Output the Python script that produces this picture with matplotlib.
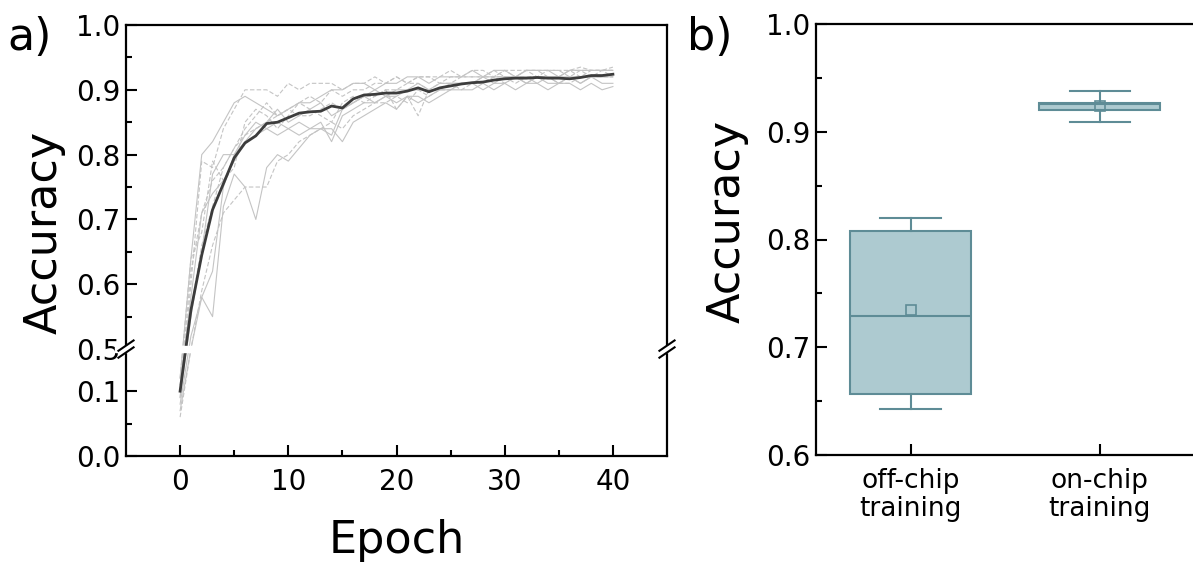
import numpy as np
import matplotlib
matplotlib.use("Agg")
import matplotlib.pyplot as plt
from matplotlib.patches import Rectangle

# ---- data ----
epochs = list(range(41))
mean_acc = [0.10, 0.56, 0.645, 0.715, 0.755, 0.795, 0.818, 0.829, 0.848, 0.850,
            0.857, 0.864, 0.866, 0.867, 0.875, 0.872, 0.886, 0.892, 0.893, 0.895,
            0.895, 0.898, 0.903, 0.897, 0.903, 0.906, 0.909, 0.911, 0.912, 0.915,
            0.917, 0.918, 0.918, 0.919, 0.918, 0.918, 0.917, 0.919, 0.922, 0.922, 0.924]

run1 = [0.12, 0.64, 0.80, 0.82, 0.85, 0.88, 0.89, 0.88, 0.87, 0.86, 0.87, 0.88, 0.88, 0.89,
        0.90, 0.90, 0.91, 0.91, 0.90, 0.91, 0.91, 0.92, 0.92, 0.91, 0.92, 0.92, 0.92, 0.93,
        0.92, 0.93, 0.93, 0.92, 0.93, 0.93, 0.93, 0.92, 0.93, 0.93, 0.93, 0.93, 0.93]
run2 = [0.09, 0.60, 0.79, 0.78, 0.84, 0.87, 0.90, 0.90, 0.90, 0.89, 0.91, 0.90, 0.91, 0.91,
        0.91, 0.90, 0.91, 0.91, 0.92, 0.91, 0.92, 0.91, 0.92, 0.92, 0.92, 0.93, 0.92, 0.93,
        0.93, 0.92, 0.93, 0.93, 0.93, 0.93, 0.93, 0.93, 0.93, 0.935, 0.93, 0.93, 0.935]
run3 = [0.08, 0.52, 0.58, 0.55, 0.72, 0.77, 0.75, 0.70, 0.78, 0.80, 0.79, 0.81, 0.83, 0.84,
        0.84, 0.82, 0.85, 0.86, 0.87, 0.88, 0.87, 0.89, 0.88, 0.89, 0.90, 0.90, 0.91, 0.91,
        0.90, 0.91, 0.91, 0.92, 0.91, 0.92, 0.92, 0.91, 0.92, 0.92, 0.92, 0.92, 0.925]
run4 = [0.06, 0.50, 0.59, 0.66, 0.71, 0.73, 0.75, 0.75, 0.75, 0.79, 0.80, 0.82, 0.83, 0.84,
        0.85, 0.84, 0.86, 0.87, 0.88, 0.88, 0.89, 0.88, 0.90, 0.89, 0.90, 0.90, 0.91, 0.91,
        0.91, 0.92, 0.91, 0.92, 0.92, 0.92, 0.92, 0.92, 0.93, 0.92, 0.93, 0.93, 0.93]
run5 = [0.11, 0.58, 0.71, 0.74, 0.76, 0.79, 0.82, 0.84, 0.85, 0.87, 0.85, 0.86, 0.87, 0.88,
        0.86, 0.87, 0.88, 0.89, 0.90, 0.89, 0.90, 0.90, 0.91, 0.90, 0.90, 0.91, 0.91, 0.91,
        0.92, 0.91, 0.92, 0.92, 0.91, 0.92, 0.91, 0.91, 0.92, 0.91, 0.92, 0.91, 0.91]
run6 = [0.10, 0.62, 0.71, 0.76, 0.78, 0.81, 0.84, 0.86, 0.88, 0.86, 0.87, 0.88, 0.87, 0.86,
        0.85, 0.88, 0.89, 0.88, 0.89, 0.90, 0.87, 0.89, 0.86, 0.90, 0.90, 0.91, 0.90, 0.91,
        0.91, 0.92, 0.92, 0.91, 0.92, 0.92, 0.92, 0.91, 0.91, 0.92, 0.92, 0.92, 0.92]
run7 = [0.09, 0.55, 0.65, 0.77, 0.80, 0.80, 0.83, 0.85, 0.84, 0.85, 0.84, 0.83, 0.84, 0.84,
        0.83, 0.87, 0.88, 0.89, 0.88, 0.89, 0.89, 0.90, 0.90, 0.90, 0.91, 0.91, 0.91, 0.91,
        0.92, 0.92, 0.92, 0.92, 0.92, 0.91, 0.92, 0.92, 0.92, 0.91, 0.92, 0.92, 0.92]
run8 = [0.12, 0.64, 0.68, 0.79, 0.76, 0.78, 0.85, 0.87, 0.86, 0.84, 0.86, 0.88, 0.89, 0.88,
        0.90, 0.89, 0.90, 0.90, 0.91, 0.91, 0.92, 0.91, 0.92, 0.92, 0.91, 0.92, 0.92, 0.92,
        0.92, 0.93, 0.92, 0.92, 0.93, 0.92, 0.93, 0.93, 0.92, 0.93, 0.92, 0.93, 0.92]
run9 = [0.07, 0.48, 0.58, 0.62, 0.75, 0.80, 0.82, 0.83, 0.84, 0.83, 0.84, 0.85, 0.84, 0.85,
        0.82, 0.86, 0.87, 0.88, 0.88, 0.89, 0.88, 0.89, 0.89, 0.88, 0.89, 0.90, 0.90, 0.90,
        0.91, 0.90, 0.91, 0.90, 0.91, 0.91, 0.90, 0.91, 0.91, 0.90, 0.91, 0.90, 0.905]
run10 = [0.10, 0.56, 0.66, 0.72, 0.78, 0.81, 0.83, 0.84, 0.85, 0.86, 0.87, 0.86, 0.86, 0.87,
         0.88, 0.87, 0.88, 0.89, 0.89, 0.90, 0.90, 0.91, 0.91, 0.90, 0.91, 0.91, 0.92, 0.92,
         0.92, 0.92, 0.93, 0.92, 0.93, 0.93, 0.92, 0.92, 0.93, 0.93, 0.93, 0.93, 0.93]
runs = [run1, run2, run3, run4, run5, run6, run7, run8, run9, run10]

box_labels = ["off-chip\ntraining", "on-chip\ntraining"]
box_q1 = [0.657, 0.920]
box_q3 = [0.808, 0.927]
box_med = [0.729, 0.926]
box_mean = [0.735, 0.924]
box_lo = [0.643, 0.909]
box_hi = [0.820, 0.938]

# ---- style ----
plt.rcParams['font.family'] = ['DejaVu Sans']
W, H = 1193, 564
fig = plt.figure(figsize=(W / 100, H / 100), dpi=100)

def px(l, t, r, b):
    return [l / W, 1 - b / H, (r - l) / W, (b - t) / H]

# broken y axis: 0..B then 0.5..1.0
B = 0.165

def fwd(y):
    y = np.asarray(y, dtype=float)
    return np.where(y <= B, y, np.where(y >= 0.5, y - 0.5 + B, B))

def inv(t):
    t = np.asarray(t, dtype=float)
    return np.where(t <= B, t, t + 0.5 - B)

# ---- panel a ----
ax = fig.add_axes(px(126, 25, 667, 456))
ax.set_yscale('function', functions=(fwd, inv))
for i, r in enumerate(runs):
    ax.plot(epochs, r, color='#c4c4c4', lw=0.8,
            ls='-' if i % 2 == 0 else (0, (4, 2)), zorder=1)
ax.plot(epochs, mean_acc, color='#3c3c3c', lw=2, zorder=2)
ax.set_xlim(-5, 45)
ax.set_ylim(0, 1.0)
ax.set_xticks([0, 10, 20, 30, 40])
ax.set_xticks([5, 15, 25, 35], minor=True)
yt = [0.0, 0.1, 0.5, 0.6, 0.7, 0.8, 0.9, 1.0]
ax.set_yticks(yt)
ax.set_yticklabels(['%.1f' % v for v in yt])
ax.set_yticks([0.05, 0.55, 0.65, 0.75, 0.85, 0.95], minor=True)

# break marks
yb = B / (B + 0.5)
ax.add_patch(Rectangle((-0.02, yb - 0.006), 1.04, 0.012, transform=ax.transAxes,
                       color='white', zorder=3, clip_on=False))
for xs in (0, 1):
    for dy in (-0.008, 0.008):
        ax.plot([xs - 0.014, xs + 0.014], [yb + dy - 0.012, yb + dy + 0.012],
                transform=ax.transAxes, color='black', lw=1.5, clip_on=False, zorder=4)

# ---- panel b ----
bx = fig.add_axes(px(816, 24, 1194.5, 455))
stats = []
for i in range(2):
    stats.append({'label': box_labels[i], 'q1': box_q1[i], 'q3': box_q3[i],
                  'med': box_med[i], 'mean': box_mean[i],
                  'whislo': box_lo[i], 'whishi': box_hi[i], 'fliers': []})
edge = '#5e8c96'
bx.bxp(stats, positions=[1, 2], widths=0.64, capwidths=0.32, patch_artist=True,
       showmeans=True, showfliers=False,
       boxprops=dict(facecolor='#adcad0', edgecolor=edge, lw=1.5),
       medianprops=dict(color=edge, lw=1.5),
       whiskerprops=dict(color=edge, lw=1.5),
       capprops=dict(color=edge, lw=1.5),
       meanprops=dict(marker='s', mfc='none', mec=edge, ms=7, mew=1.2))
bx.set_xlim(0.5, 2.5)
bx.set_ylim(0.6, 1.0)
bx.set_yticks([0.6, 0.7, 0.8, 0.9, 1.0])
bx.set_yticks([0.65, 0.75, 0.85, 0.95], minor=True)
bx.yaxis.set_major_formatter(plt.FormatStrFormatter('%.1f'))

for a in (ax, bx):
    for s in a.spines.values():
        s.set_linewidth(1.6)
    a.tick_params(which='both', direction='in', width=1.5, labelsize=20,
                  top=False, right=False)
    a.tick_params(which='major', length=8)
    a.tick_params(which='minor', length=4)
    a.tick_params(axis='y', pad=4)
    a.tick_params(axis='x', pad=9)
bx.tick_params(axis='x', labelsize=19)
for lab in bx.get_xticklabels():
    lab.set_linespacing(1.15)

# labels
fig.text(44 / W, 1 - 232 / H, 'Accuracy', rotation=90, fontsize=32, ha='center', va='center')
fig.text(727 / W, 1 - 221 / H, 'Accuracy', rotation=90, fontsize=32, ha='center', va='center')
fig.text(397 / W, 1 - 541 / H, 'Epoch', fontsize=32, ha='center', va='center')
fig.text(30 / W, 1 - 38 / H, 'a)', fontsize=32, ha='center', va='center')
fig.text(710 / W, 1 - 38 / H, 'b)', fontsize=32, ha='center', va='center')

fig.savefig('out.png', dpi=100)
